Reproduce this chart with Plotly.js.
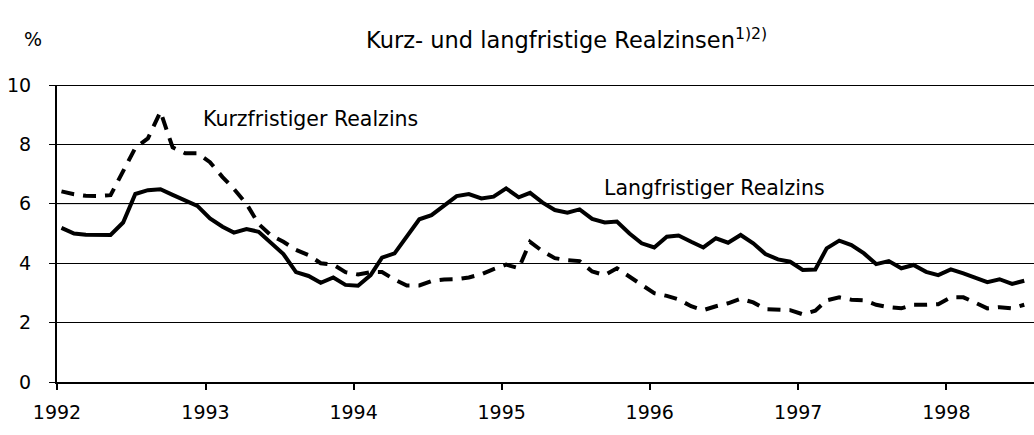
<!DOCTYPE html>
<html>
<head>
<meta charset="utf-8">
<script src="https://cdn.plot.ly/plotly-3.0.1.min.js"></script>
<style>
html,body{margin:0;padding:0;background:#fff;}
#chart{width:1034px;height:435px;}
</style>
</head>
<body>
<div id="chart"></div>
<script>
// Monthly observations, Jan 1992 – Jul 1998
const startYear = 1992;
const nMonths = 79;

const langfristig = [
  5.19,5.00,4.96,4.96,4.95,5.37,6.33,6.46,6.49,6.30,6.10,5.93,
  5.51,5.23,5.03,5.15,5.06,4.67,4.31,3.70,3.57,3.34,3.52,3.27,
  3.24,3.60,4.19,4.33,4.89,5.48,5.62,5.95,6.26,6.33,6.18,6.24,
  6.52,6.22,6.37,6.04,5.79,5.70,5.81,5.49,5.37,5.40,5.00,4.67,
  4.53,4.89,4.93,4.72,4.53,4.84,4.69,4.95,4.67,4.31,4.13,4.05,
  3.77,3.79,4.50,4.76,4.61,4.33,3.97,4.07,3.83,3.94,3.71,3.60,
  3.79,3.66,3.52,3.36,3.46,3.30,3.41
];

const kurzfristig = [
  6.42,6.32,6.27,6.26,6.29,7.10,7.88,8.20,9.10,7.90,7.70,7.70,
  7.40,6.90,6.50,6.00,5.32,4.93,4.72,4.45,4.27,4.00,3.95,3.70,
  3.62,3.70,3.70,3.45,3.25,3.25,3.40,3.45,3.46,3.52,3.63,3.80,
  3.95,3.83,4.72,4.40,4.17,4.10,4.07,3.72,3.60,3.83,3.55,3.30,
  2.99,2.90,2.78,2.55,2.42,2.55,2.65,2.80,2.68,2.45,2.45,2.42,
  2.28,2.40,2.75,2.85,2.77,2.75,2.60,2.52,2.48,2.60,2.60,2.62,
  2.85,2.85,2.68,2.48,2.52,2.48,2.60
];

const yTicks = [0, 2, 4, 6, 8, 10];
const xTickLabels = ['1992','1993','1994','1995','1996','1997','1998'];

const titleText = 'Kurz- und langfristige Realzinsen';
const titleNote = '1)2)';
const unitText = '%';
const labelKurz = 'Kurzfristiger Realzins';
const labelLang = 'Langfristiger Realzins';

// build monthly dates
const dates = [];
for (let i = 0; i < nMonths; i++) {
  const y = startYear + Math.floor(i / 12);
  const m = (i % 12) + 1;
  dates.push(y + '-' + String(m).padStart(2, '0') + '-12');
}
const xTickVals = xTickLabels.map(y => y + '-01-01');

const FONT = 'DejaVu Sans, Arial, sans-serif';

const traces = [
  {
    x: dates, y: kurzfristig, type: 'scatter', mode: 'lines',
    line: {color: '#000', width: 4, dash: '13px,9px'},
    hoverinfo: 'skip', showlegend: false
  },
  {
    x: dates, y: langfristig, type: 'scatter', mode: 'lines',
    line: {color: '#000', width: 4},
    hoverinfo: 'skip', showlegend: false
  }
];

const layout = {
  width: 1034, height: 435,
  margin: {l: 57, r: 0, t: 85, b: 53, pad: 0},
  paper_bgcolor: '#fff', plot_bgcolor: '#fff',
  font: {family: FONT, color: '#000', size: 19},
  showlegend: false,
  xaxis: {
    type: 'date',
    range: ['1992-01-01', '1998-08-05'],
    tickvals: xTickVals, ticktext: xTickLabels,
    ticks: 'outside', ticklen: 6, tickwidth: 2, tickcolor: '#000',
    showline: true, linecolor: '#000', linewidth: 2,
    showgrid: false, zeroline: false,
    ticklabelstandoff: 6,
    tickfont: {family: FONT, size: 19, color: '#000'}
  },
  yaxis: {
    range: [0, 10],
    tickvals: yTicks,
    ticks: 'outside', ticklen: 6, tickwidth: 1, tickcolor: '#000',
    showline: true, linecolor: '#000', linewidth: 2,
    showgrid: true, gridcolor: '#000', gridwidth: 1,
    zeroline: false,
    ticklabelstandoff: 14,
    tickfont: {family: FONT, size: 19, color: '#000'}
  },
  shapes: [
    {type: 'line', xref: 'paper', yref: 'y', x0: 0, x1: 1, y0: 6, y1: 6,
     line: {color: '#8c8c8c', width: 1}, layer: 'between'},
    {type: 'line', xref: 'paper', yref: 'y', x0: 0, x1: 1, y0: 10, y1: 10,
     line: {color: '#000', width: 2}, layer: 'between'}
  ],
  annotations: [
    {text: titleText + '<sup>' + titleNote + '</sup>', xref: 'paper', yref: 'paper',
     x: 0.522, y: 1.155, xanchor: 'center', yanchor: 'middle', showarrow: false,
     font: {family: FONT, size: 22.5, color: '#000'}},
    {text: unitText, xref: 'paper', yref: 'paper',
     x: -0.025, y: 1.155, xanchor: 'center', yanchor: 'middle', showarrow: false,
     font: {family: FONT, size: 19, color: '#000'}},
    {text: labelKurz, xref: 'paper', yref: 'paper',
     x: 0.1474, y: 0.8855, xanchor: 'left', yanchor: 'middle', showarrow: false,
     font: {family: FONT, size: 20.5, color: '#000'}},
    {text: labelLang, xref: 'paper', yref: 'paper',
     x: 0.5578, y: 0.653, xanchor: 'left', yanchor: 'middle', showarrow: false,
     font: {family: FONT, size: 20.5, color: '#000'}}
  ]
};

Plotly.newPlot('chart', traces, layout, {staticPlot: true, displayModeBar: false});
</script>
</body>
</html>
